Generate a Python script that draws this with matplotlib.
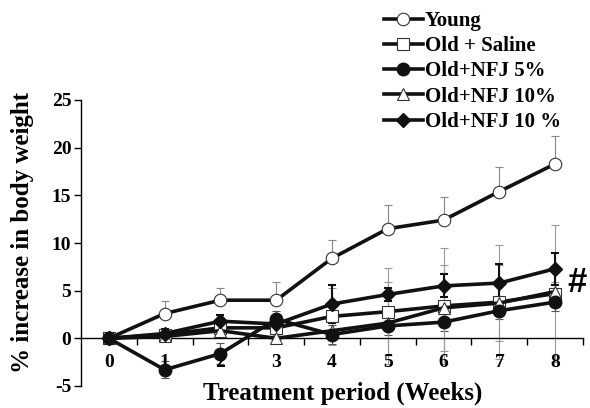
import numpy as np
import matplotlib
matplotlib.use("Agg")
import matplotlib.pyplot as plt

plt.rcParams["font.family"] = ["Liberation Serif", "DejaVu Serif"]
plt.rcParams["font.weight"] = "bold"
plt.rcParams["axes.unicode_minus"] = False

weeks = [0, 1, 2, 3, 4, 5, 6, 7, 8]

young = [0, 2.6, 4.0, 4.0, 8.4, 11.5, 12.4, 15.4, 18.3]
young_err = [0, 1.3, 1.3, 1.9, 1.9, 2.5, 2.4, 2.6, 2.9]

saline = [0, 0.4, 1.1, 1.1, 2.3, 2.8, 3.4, 3.8, 4.7]
saline_err = [0.4, 0.5, 0.6, 0.8, 3.0, 4.6, 6.1, 6.0, 7.2]

nfj5 = [0, -3.3, -1.6, 2.0, 0.4, 1.3, 1.7, 2.9, 3.8]
nfj5_err = [0.4, 0.9, 1.1, 0.9, 1.0, 1.0, 0.9, 0.9, 0.9]

nfj10 = [0, 0.2, 0.8, 0.0, 0.8, 1.6, 3.2, 3.7, 4.9]
nfj10_err = [0.3, 0.4, 0.6, 0.5, 1.0, 4.3, 4.5, 4.0, 1.0]

nfj10b = [0, 0.5, 1.8, 1.5, 3.6, 4.6, 5.5, 5.8, 7.3]
nfj10b_err = [0.3, 0.5, 0.6, 0.7, 2.0, 0.7, 1.2, 2.0, 1.7]

labels = ["Young", "Old + Saline", "Old+NFJ 5%", "Old+NFJ 10%", "Old+NFJ 10 %"]

fig = plt.figure(figsize=(5.9, 4.08), dpi=100)
ax = fig.add_axes([81 / 590, 22 / 408, 502 / 590, 286 / 408])

lw = 2.6
ms = 9

# error bars
ax.errorbar(weeks, young, yerr=[np.zeros(9), young_err], fmt="none",
            ecolor="#888888", elinewidth=0.8, capsize=3, capthick=0.8, zorder=1)
ax.errorbar(weeks, saline, yerr=saline_err, fmt="none",
            ecolor="#999999", elinewidth=0.8, capsize=3, capthick=0.8, zorder=1)
ax.errorbar(weeks, nfj5, yerr=nfj5_err, fmt="none",
            ecolor="#555555", elinewidth=0.8, capsize=3, capthick=0.8, zorder=1)
ax.errorbar(weeks, nfj10, yerr=nfj10_err, fmt="none",
            ecolor="#999999", elinewidth=0.8, capsize=3, capthick=0.8, zorder=1)
ax.errorbar(weeks, nfj10b, yerr=nfj10b_err, fmt="none",
            ecolor="#111111", elinewidth=1.5, capsize=3, capthick=1.5, zorder=1)

ax.plot(weeks, young, "-", color="#111111", lw=lw, marker="o", ms=ms,
        mfc="white", mec="#333333", mew=0.8, label=labels[0], zorder=3)
ax.plot(weeks, saline, "-", color="#111111", lw=lw, marker="s", ms=ms - 1,
        mfc="white", mec="#333333", mew=0.8, label=labels[1], zorder=3)
ax.plot(weeks, nfj5, "-", color="#111111", lw=lw, marker="o", ms=ms,
        mfc="#111111", mec="#111111", label=labels[2], zorder=4)
ax.plot(weeks, nfj10, "-", color="#111111", lw=lw, marker="^", ms=ms,
        mfc="white", mec="#333333", mew=0.8, label=labels[3], zorder=3)
ax.plot(weeks, nfj10b, "-", color="#111111", lw=lw, marker="D", ms=ms - 2,
        mfc="#111111", mec="#111111", label=labels[4], zorder=4)

ax.set_xlim(-0.5, 8.5)
ax.set_ylim(-5, 25)
ax.spines["top"].set_visible(False)
ax.spines["right"].set_visible(False)
ax.spines["bottom"].set_position(("data", 0))
ax.spines["bottom"].set_linewidth(1.0)
ax.spines["left"].set_linewidth(1.0)

ax.set_xticks(weeks)
ax.set_xticks(np.arange(0.5, 8.6, 1), minor=True)
ax.tick_params(axis="x", which="major", length=0, pad=11, labelsize=14)
ax.tick_params(axis="x", which="minor", length=5, direction="out", width=1)
ax.set_yticks([-5, 0, 5, 10, 15, 20, 25])
ax.tick_params(axis="y", length=5, direction="out", width=1, labelsize=14, pad=2)
for t in ax.get_xticklabels() + ax.get_yticklabels():
    t.set_fontweight("bold")

fig.text(343 / 590, 1 - 393 / 408, "Treatment period (Weeks)", ha="center",
         va="center", fontsize=18, fontweight="bold")
fig.text(23 / 590, 1 - 232 / 408, "% increase in body weight", ha="center",
         va="center", rotation=90, fontsize=18, fontweight="bold")
fig.text(577 / 590, 1 - 282 / 408, "#", ha="center", va="center",
         fontsize=25, fontweight="bold", family="Liberation Sans")

fig.legend(loc="upper left", bbox_to_anchor=(384 / 590, 1 - 11 / 408),
           frameon=False, handlelength=1.85, handletextpad=0.1,
           labelspacing=0.25, borderpad=0, borderaxespad=0,
           prop={"weight": "bold", "size": 15})

fig.savefig("out.png", dpi=100)
